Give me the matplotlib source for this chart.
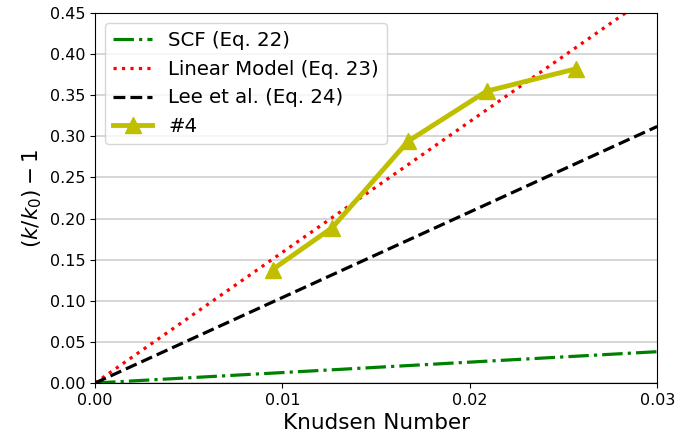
import matplotlib
matplotlib.use("Agg")
import matplotlib.pyplot as plt
import numpy as np

# Knudsen number range for the model curves
kn_line = [0.0, 0.03]

# model slopes, (k/k0) - 1 = slope * Kn
scf_slope = 1.27
linear_slope = 15.9
lee_slope = 10.4

# sample #4 measurements
kn_sample = [0.00947, 0.01266, 0.0167, 0.0209, 0.02564]
k_sample = [0.138, 0.189, 0.294, 0.355, 0.382]

fig = plt.figure(figsize=(6.94, 4.41), dpi=100)
ax = fig.add_axes([0.137, 0.1315, 0.81, 0.839])

kn = np.array(kn_line)
ax.plot(kn, scf_slope * kn, color="green", linestyle="-.", linewidth=2.3, label="SCF (Eq. 22)")
ax.plot(kn, linear_slope * kn, color="red", linestyle=":", linewidth=2.3, label="Linear Model (Eq. 23)")
ax.plot(kn, lee_slope * kn, color="black", linestyle="--", linewidth=2.3, label="Lee et al. (Eq. 24)")
ax.plot(kn_sample, k_sample, color="y", marker="^", markersize=11, linewidth=3.5, label="#4")

ax.set_xlim(0, 0.03)
ax.set_ylim(0, 0.45)
ax.set_xticks([0.0, 0.01, 0.02, 0.03])
ax.set_yticks(np.arange(0, 0.451, 0.05))
ax.xaxis.set_major_formatter(matplotlib.ticker.FormatStrFormatter("%.2f"))
ax.yaxis.set_major_formatter(matplotlib.ticker.FormatStrFormatter("%.2f"))
ax.grid(axis="y", color="#d0d0d0", linewidth=1.2)
ax.set_axisbelow(True)
ax.tick_params(labelsize=11.5)
ax.set_xlabel("Knudsen Number", fontsize=15.5)
ax.set_ylabel(r"$(k/k_0) - 1$", fontsize=15.5)
ax.legend(loc="upper left", fontsize=14.2)

fig.savefig("out.png", dpi=100)
